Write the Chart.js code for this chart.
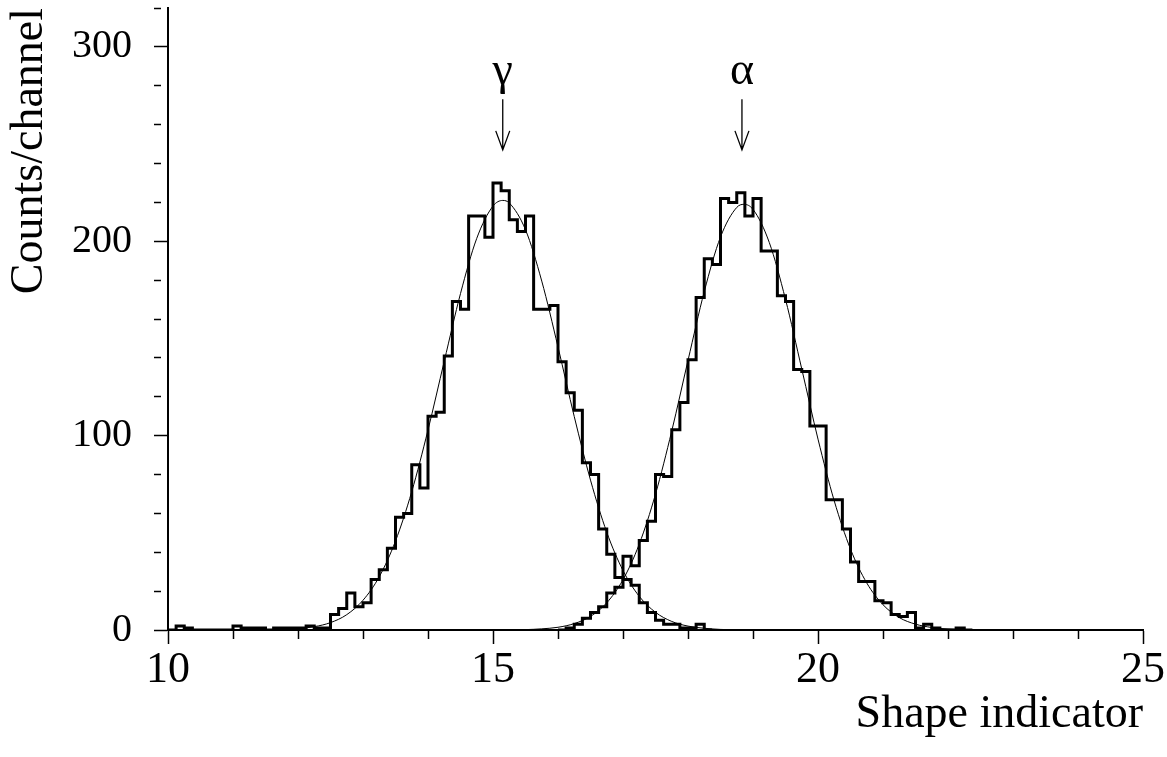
<!DOCTYPE html>
<html>
<head>
<meta charset="utf-8">
<script src="https://cdn.jsdelivr.net/npm/chart.js@4.4.0/dist/chart.umd.min.js"></script>
<style>
  html, body { margin: 0; padding: 0; background: #fff; }
  #wrap { width: 1167px; height: 757px; }
</style>
</head>
<body>
<div id="wrap"><canvas id="spectrum"></canvas></div>
<script>
// channels are 0.125 wide, counts listed from the first channel edge
const binWidth = 0.125;

const gammaStart = 10.0;
const gammaCounts = [
  0, 2, 1, 0, 0, 0, 0, 0,            // 10.0 - 10.875
  2, 1, 1, 1, 0, 1, 1, 1,            // 11.0 - 11.875
  1, 2, 1, 1, 8, 11, 19, 12,         // 12.0 - 12.875
  14, 26, 31, 42, 58, 60, 85, 73,    // 13.0 - 13.875
  110, 112, 141, 169, 165, 213, 213, 202, // 14.0 - 14.875
  230, 226, 211, 205, 213, 165, 165, 167, // 15.0 - 15.875
  138, 122, 113, 86, 80, 52, 39, 27, // 16.0 - 16.875
  26, 23, 14, 9, 5, 3, 3, 1,         // 17.0 - 17.875
  1, 3, 0                            // 18.0 - 18.25
];

const alphaStart = 16.0;
const alphaCounts = [
  0, 1, 3, 6, 9, 12, 19, 22,         // 16.0 - 16.875
  38, 33, 46, 56, 80, 79, 103, 117,  // 17.0 - 17.875
  139, 171, 191, 188, 222, 220, 225, 213, // 18.0 - 18.875
  222, 195, 195, 172, 169, 134, 133, 105, // 19.0 - 19.875
  105, 67, 67, 52, 35, 25, 25, 15,   // 20.0 - 20.875
  14, 8, 7, 9, 1, 3, 1, 0,           // 21.0 - 21.875
  0, 1, 0                            // 22.0 - 22.25
];

// thin fitted curves
const gammaFitX = [11.5, 11.75, 12, 12.25, 12.5, 12.75, 13, 13.25, 13.5, 13.75, 14, 14.25, 14.5, 14.75, 15, 15.15,
  15.25, 15.5, 15.75, 16, 16.25, 16.5, 16.75, 17, 17.25, 17.5, 17.75, 18, 18.25, 18.5, 18.75];
const gammaFitY = [0.1, 0.3, 0.7, 1.7, 3.8, 7.9, 15.3, 27.4, 45.8, 71.2, 102.9, 138.3, 173.1, 201.5, 218.1, 221,
  219.7, 205.9, 179.5, 145.6, 109.8, 77.1, 50.3, 30.6, 17.3, 9.1, 4.4, 2.0, 0.9, 0.3, 0.1];

const alphaFitX = [15, 15.25, 15.5, 15.75, 16, 16.25, 16.5, 16.75, 17, 17.25, 17.5, 17.75, 18, 18.25, 18.5, 18.75, 18.86,
  19, 19.25, 19.5, 19.75, 20, 20.25, 20.5, 20.75, 21, 21.25, 21.5, 21.75, 22, 22.25, 22.5];
const alphaFitY = [0.0, 0.1, 0.2, 0.6, 1.4, 3.3, 7.0, 14.0, 25.9, 44.2, 69.9, 102.4, 138.7, 174.1, 202.2, 217.4, 219,
  216.4, 199.4, 170.1, 134.3, 98.2, 66.4, 41.6, 24.2, 13.0, 6.4, 3.0, 1.3, 0.5, 0.2, 0.1];

// peak markers
const peakLabels = ['γ', 'α'];
const peakX = [15.15, 18.83];

const serif = '"Liberation Serif", "Times New Roman", serif';

function histPoints(start, counts) {
  const pts = counts.map((c, i) => ({ x: start + i * binWidth, y: c }));
  pts.push({ x: start + counts.length * binWidth, y: 0 });
  return pts;
}
function curvePoints(xs, ys) {
  return xs.map((x, i) => ({ x: x, y: ys[i] }));
}

const peakMarks = {
  id: 'peakMarks',
  afterDatasetsDraw(chart) {
    const { ctx, scales: { x, y } } = chart;
    ctx.save();
    ctx.strokeStyle = '#000';
    ctx.fillStyle = '#000';
    ctx.lineWidth = 1.3;
    ctx.font = '46px ' + serif;
    ctx.textAlign = 'center';
    ctx.textBaseline = 'alphabetic';
    peakLabels.forEach((label, i) => {
      const px = x.getPixelForValue(peakX[i]);
      const top = y.getPixelForValue(273);
      const tip = y.getPixelForValue(247);
      ctx.beginPath();
      ctx.moveTo(px, top);
      ctx.lineTo(px, tip);
      ctx.moveTo(px - 7, tip - 19);
      ctx.lineTo(px, tip);
      ctx.lineTo(px + 7, tip - 19);
      ctx.stroke();
      ctx.fillText(label, px, y.getPixelForValue(281));
    });
    ctx.restore();
  }
};

new Chart(document.getElementById('spectrum'), {
  type: 'line',
  data: {
    datasets: [{
      label: 'gamma',
      data: histPoints(gammaStart, gammaCounts),
      stepped: 'before',
      borderColor: '#000',
      borderWidth: 3,
      pointRadius: 0
    }, {
      label: 'alpha',
      data: histPoints(alphaStart, alphaCounts),
      stepped: 'before',
      borderColor: '#000',
      borderWidth: 3,
      pointRadius: 0
    }, {
      label: 'gamma fit',
      data: curvePoints(gammaFitX, gammaFitY),
      cubicInterpolationMode: 'monotone',
      borderColor: '#000',
      borderWidth: 1,
      pointRadius: 0
    }, {
      label: 'alpha fit',
      data: curvePoints(alphaFitX, alphaFitY),
      cubicInterpolationMode: 'monotone',
      borderColor: '#000',
      borderWidth: 1,
      pointRadius: 0
    }]
  },
  options: {
    responsive: true,
    maintainAspectRatio: false,
    animation: false,
    layout: { padding: { top: 8, right: 24, left: 0, bottom: 0 } },
    plugins: { legend: { display: false }, tooltip: { enabled: false } },
    scales: {
      x: {
        type: 'linear',
        min: 10,
        max: 25,
        afterFit: s => { s.height = 127; s.paddingLeft = 0; s.paddingRight = 0; },
        border: { color: '#000', width: 2 },
        grid: {
          drawOnChartArea: false,
          tickLength: 14,
          tickColor: '#000',
          tickWidth: 1.5,
          tickBorderDash: c => (c.tick && c.tick.value % 5 !== 0) ? [8, 100] : []
        },
        ticks: {
          stepSize: 1,
          autoSkip: false,
          maxRotation: 0,
          padding: 0,
          color: '#000',
          font: { family: serif, size: 44 },
          callback: v => (v % 5 === 0 ? v : '')
        },
        title: {
          display: true,
          text: 'Shape indicator',
          align: 'end',
          color: '#000',
          font: { family: serif, size: 46 },
          padding: { top: 0, bottom: 14 }
        }
      },
      y: {
        min: 0,
        max: 320,
        afterFit: s => { s.width = 168; s.paddingTop = 0; s.paddingBottom = 0; },
        border: { color: '#000', width: 2 },
        grid: {
          drawOnChartArea: false,
          tickLength: 14,
          tickColor: '#000',
          tickWidth: 1.5,
          tickBorderDash: c => (c.tick && c.tick.value % 100 !== 0) ? [7, 100] : []
        },
        ticks: {
          stepSize: 20,
          autoSkip: false,
          padding: 22,
          color: '#000',
          font: { family: serif, size: 40 },
          callback: v => (v % 100 === 0 ? v : '')
        },
        title: {
          display: true,
          text: 'Counts/channel',
          align: 'end',
          color: '#000',
          font: { family: serif, size: 46 },
          padding: { top: 2, bottom: 0 }
        }
      }
    }
  },
  plugins: [peakMarks]
});
</script>
</body>
</html>
